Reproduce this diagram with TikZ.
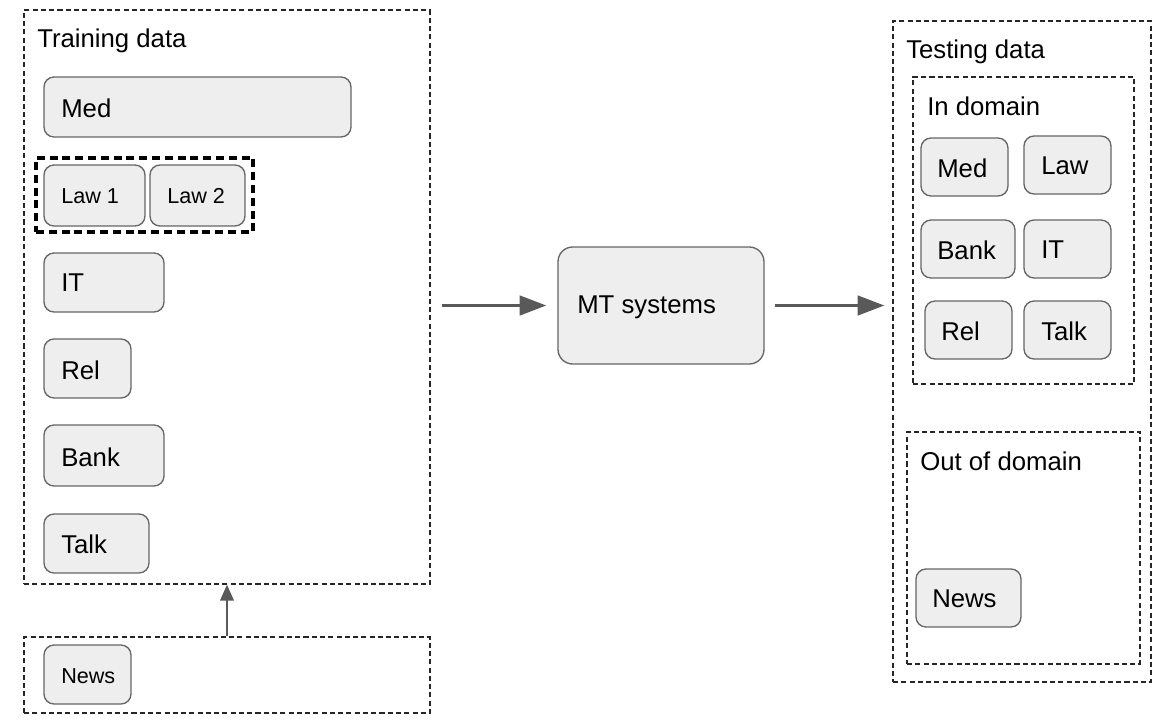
\documentclass[tikz,border=0pt]{standalone}
\usepackage{fontspec}
\setmainfont{Liberation Sans}
\usetikzlibrary{fit,arrows.meta}
\definecolor{boxfill}{HTML}{EEEEEE}
\definecolor{boxline}{HTML}{666666}
\definecolor{arrcol}{HTML}{595959}
\begin{document}
\begin{tikzpicture}[x=0.75pt,y=-0.75pt,
  dom/.style={draw=boxline, fill=boxfill, line width=1pt, rounded corners=7.5pt, inner sep=0pt},
  group/.style={draw=black!85, line width=0.9pt, dash pattern=on 3.8pt off 2.4pt, inner sep=0pt},
  thickgroup/.style={draw=black, line width=2.3pt, dash pattern=on 6pt off 3.6pt, inner sep=0pt},
  big/.style={font=\fontsize{19.3}{23}\selectfont, inner sep=0pt, anchor=west},
  small/.style={font=\fontsize{16.2}{19}\selectfont, inner sep=0pt, anchor=west},
  arr/.style={draw=arrcol, line width=2.5pt, -{Triangle[length=20pt,width=14.5pt]}},
  arrsmall/.style={draw=arrcol, line width=1.9pt, -{Triangle[length=12pt,width=10pt]}}
]
\useasboundingbox (0,0) rectangle (1167,728);

% Training data
\node[group, fit={(24,10) (430,584)}] (train) {};
\node[big] (traint) at (37,41) {Training data};
\node[dom, fit={(44,77) (351,137)}] (tmed) {};
\node[big] at (61,108) {Med};
\node[thickgroup, fit={(36,158) (253,232)}] (lawgrp) {};
\node[dom, fit={(44,165) (145,226)}] (tlaw1) {};
\node[small] at (61,196) {Law 1};
\node[dom, fit={(150,165) (245,226)}] (tlaw2) {};
\node[small] at (167,196) {Law 2};
\node[dom, fit={(44,253) (164,312)}] (tit) {};
\node[big] at (61,283) {IT};
\node[dom, fit={(44,339) (131,398)}] (trel) {};
\node[big] at (61,370) {Rel};
\node[dom, fit={(44,425) (164,486)}] (tbank) {};
\node[big] at (61,457) {Bank};
\node[dom, fit={(44,514) (149,573)}] (ttalk) {};
\node[big] at (61,544) {Talk};

% News (extra training)
\node[group, fit={(24,637) (430,713)}] (newsgrp) {};
\node[dom, fit={(44,645) (131,704)}] (tnews) {};
\node[small] at (61,676) {News};

% MT systems
\node[dom, rounded corners=11pt, fit={(558,247) (764,364)}] (mt) {};
\node[big] at (577,307) {MT systems};

% Testing data
\node[group, fit={(893,21) (1151,682)}] (test) {};
\node[big] at (906,52) {Testing data};
\node[group, fit={(913,77) (1134,384)}] (indom) {};
\node[big] at (927,106) {In domain};
\node[dom, fit={(921,138) (1008,196)}] (smed) {};
\node[big] at (937,168) {Med};
\node[dom, fit={(1024,136) (1111,194)}] (slaw) {};
\node[big] at (1041,166) {Law};
\node[dom, fit={(921,220) (1015,278)}] (sbank) {};
\node[big] at (937,250) {Bank};
\node[dom, fit={(1024,220) (1111,278)}] (sit) {};
\node[big] at (1041,250) {IT};
\node[dom, fit={(925,301) (1012,359)}] (srel) {};
\node[big] at (941,331) {Rel};
\node[dom, fit={(1024,301) (1111,359)}] (stalk) {};
\node[big] at (1041,331) {Talk};
\node[group, fit={(907,432) (1140,664)}] (outdom) {};
\node[big] at (920,461) {Out of domain};
\node[dom, fit={(916,569) (1021,627)}] (snews) {};
\node[big] at (932,599) {News};

% Connectors
\draw[arr, shorten <=8.25pt, shorten >=8.25pt] (train.east |- mt.west) -- (mt.west);
\draw[arr, shorten <=7.5pt, shorten >=6pt] (mt.east) -- (test.west |- mt.east);
\draw[arrsmall] (newsgrp.north) -- (train.south);
\end{tikzpicture}
\end{document}
